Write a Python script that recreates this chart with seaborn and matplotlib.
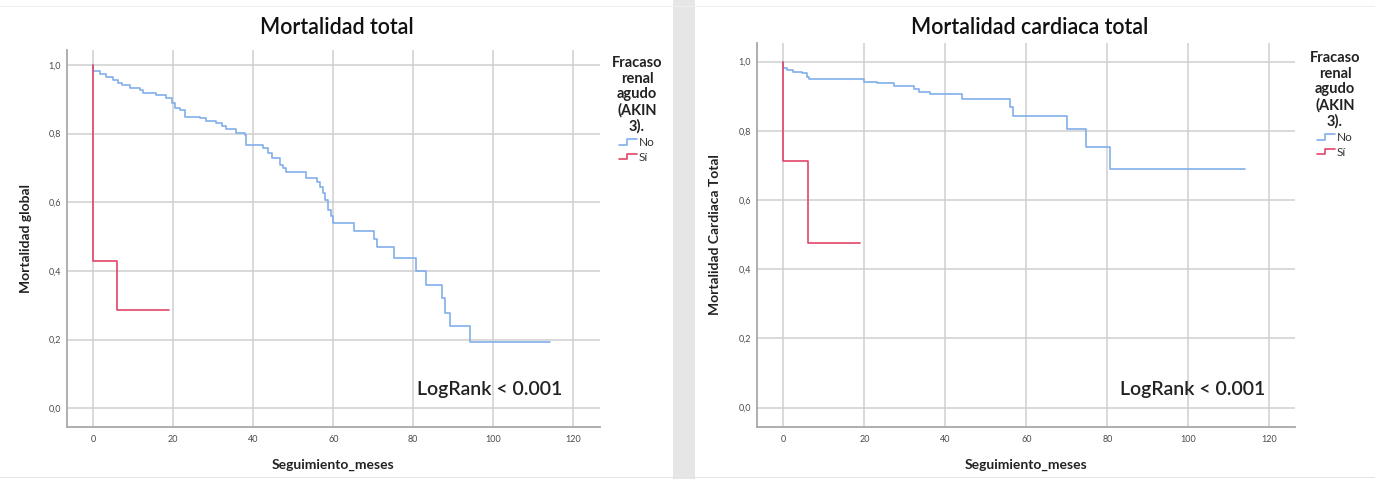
import numpy as np
import pandas as pd
import matplotlib
matplotlib.use("Agg")
import matplotlib.pyplot as plt
import seaborn as sns
from matplotlib.lines import Line2D
from matplotlib.patches import Rectangle
from matplotlib.legend_handler import HandlerBase
from matplotlib.ticker import FuncFormatter

# Kaplan-Meier estimates, months of follow-up
total_no_t = [0.0, 0.0, 1.7, 3.3, 5.0, 6.2, 7.1, 9.2, 11.7, 12.5, 15.8, 18.3, 19.6, 20.4,
              21.7, 23.0, 26.7, 28.3, 30.8, 32.2, 33.3, 35.8, 37.9, 38.1, 42.5, 43.6,
              44.6, 46.7, 47.5, 48.3, 53.3, 56.0, 56.7, 57.4, 58.0, 58.8, 59.4, 60.0,
              65.2, 70.2, 71.0, 75.2, 80.8, 83.2, 87.1, 88.0, 89.3, 94.3, 114.3]
total_no_s = [1.0, 0.983, 0.973, 0.964, 0.956, 0.949, 0.942, 0.932, 0.927, 0.918, 0.913,
              0.903, 0.888, 0.874, 0.869, 0.848, 0.845, 0.838, 0.830, 0.822, 0.813,
              0.801, 0.796, 0.767, 0.757, 0.743, 0.728, 0.709, 0.699, 0.689, 0.670,
              0.660, 0.646, 0.626, 0.607, 0.578, 0.560, 0.541, 0.517, 0.492, 0.471,
              0.437, 0.401, 0.359, 0.320, 0.279, 0.241, 0.194, 0.194]
total_si_t = [0.0, 0.0, 5.9, 18.9]
total_si_s = [1.0, 0.4286, 0.2857, 0.2857]

card_no_t = [0.0, 0.0, 0.8, 2.5, 4.5, 5.8, 6.4, 20.0, 23.1, 27.2, 32.2, 33.4, 36.3,
             44.1, 55.9, 56.7, 69.9, 74.8, 80.7, 113.9]
card_no_s = [1.0, 0.981, 0.976, 0.971, 0.966, 0.957, 0.950, 0.942, 0.938, 0.930,
             0.920, 0.913, 0.907, 0.891, 0.870, 0.843, 0.805, 0.754, 0.689, 0.689]
card_si_t = [0.0, 0.0, 6.2, 18.9]
card_si_s = [1.0, 0.714, 0.476, 0.476]

groups = ["No", "Sí"]
panel_titles = ["Mortalidad total", "Mortalidad cardiaca total"]
y_labels = ["Mortalidad global", "Mortalidad Cardiaca Total"]
x_label = "Seguimiento_meses"
legend_title = "Fracaso\nrenal\nagudo\n(AKIN\n3)."
logrank_text = "LogRank < 0.001"
x_ticks = [0, 20, 40, 60, 80, 100, 120]
y_ticks = [0.0, 0.2, 0.4, 0.6, 0.8, 1.0]

palette = {"No": "#82aeea", "Sí": "#e2466a"}

sns.set_theme(style="white")
plt.rcParams["font.family"] = ["Lato", "DejaVu Sans"]


def frame(no_t, no_s, si_t, si_s):
    return pd.DataFrame({
        "meses": list(no_t) + list(si_t),
        "surv": list(no_s) + list(si_s),
        "grupo": ["No"] * len(no_t) + ["Sí"] * len(si_t),
    })


data = [frame(total_no_t, total_no_s, total_si_t, total_si_s),
        frame(card_no_t, card_no_s, card_si_t, card_si_s)]


class StepHandler(HandlerBase):
    def create_artists(self, legend, orig_handle, xdescent, ydescent,
                       width, height, fontsize, trans):
        x0 = -xdescent
        y0 = -ydescent
        xs = [x0, x0 + width * 0.45, x0 + width * 0.45, x0 + width]
        ys = [y0 + height * 0.2, y0 + height * 0.2, y0 + height * 0.85, y0 + height * 0.85]
        ln = Line2D(xs, ys, color=orig_handle.get_color(), lw=1.2)
        ln.set_transform(trans)
        return [ln]


W, H = 1375, 479
fig = plt.figure(figsize=(W / 100, H / 100), dpi=100)
fig.patch.set_facecolor("white")

# gap between the two panels
fig.patches.append(Rectangle((673 / W, 0), 22 / W, 1, transform=fig.transFigure,
                             facecolor="#e6e6e6", edgecolor="none", zorder=0))
fig.patches.append(Rectangle((0, 1 - 7 / H), 1, 1.2 / H, transform=fig.transFigure,
                             facecolor="#eeeeee", edgecolor="none", zorder=0))
fig.patches.append(Rectangle((0, 1 - 478 / H), 1, 1.5 / H, transform=fig.transFigure,
                             facecolor="#e4e4e4", edgecolor="none", zorder=0))

axes_px = [(66.7, 50, 600, 427), (756.7, 43, 1295, 426.7)]
xlims = [(-6.65, 126.7), (-6.57, 126.3)]
ylims = [(-0.0545, 1.0437), (-0.055, 1.054)]
title_y = [28, 28]
ylabel_x = [26, 715]
legend_x = [637, 1335]
legend_top = [56, 51]
logrank_pos = [(562, 390), (1265, 390)]

for i, df in enumerate(data):
    l, t, r, b = axes_px[i]
    ax = fig.add_axes([l / W, 1 - b / H, (r - l) / W, (b - t) / H])
    ax.set_facecolor("none")
    sns.lineplot(data=df, x="meses", y="surv", hue="grupo", hue_order=groups,
                 palette=palette, drawstyle="steps-post", estimator=None,
                 sort=False, legend=False, linewidth=1.2, ax=ax, zorder=3)
    ax.set_xlim(*xlims[i])
    ax.set_ylim(*ylims[i])
    ax.set_xticks(x_ticks)
    ax.set_yticks(y_ticks)
    ax.yaxis.set_major_formatter(FuncFormatter(lambda v, p: f"{v:.1f}".replace(".", ",")))
    ax.tick_params(axis="both", length=0, labelsize=6.5, labelcolor="#4a4a4a")
    ax.tick_params(axis="x", pad=6)
    ax.tick_params(axis="y", pad=4)
    ax.grid(True, color="#cfcfcf", linewidth=1.1)
    ax.set_axisbelow(True)
    for side in ["top", "right"]:
        ax.spines[side].set_visible(False)
    for side in ["left", "bottom"]:
        ax.spines[side].set_color("#a8a8a8")
        ax.spines[side].set_linewidth(1.3)
    ax.set_xlabel("")
    ax.set_ylabel("")

    fig.text(((l + r) / 2 + 4) / W, 1 - title_y[i] / H, panel_titles[i],
             ha="center", va="center", fontsize=15.5, fontweight="semibold",
             color="#111111")
    fig.text(((l + r) / 2) / W, 1 - 465 / H, x_label, ha="center", va="center",
             fontsize=10, fontweight="bold", color="#222222")
    fig.text(ylabel_x[i] / W, 1 - ((t + b) / 2) / H, y_labels[i], ha="center",
             va="center", rotation=90, fontsize=10, fontweight="bold", color="#222222")
    lx, ly = logrank_pos[i]
    fig.text(lx / W, 1 - ly / H, logrank_text, ha="right", va="center",
             fontsize=14, fontweight="semibold", color="#222222")

    handles = [Line2D([], [], color=palette[g]) for g in groups]
    leg = fig.legend(handles, groups, loc="upper center",
                     bbox_to_anchor=(legend_x[i] / W, 1 - legend_top[i] / H),
                     bbox_transform=fig.transFigure, frameon=False,
                     title=legend_title, alignment="center",
                     handler_map={Line2D: StepHandler()},
                     handlelength=1.5, handletextpad=0.15, labelspacing=0.3,
                     prop={"size": 8.5}, borderpad=0, borderaxespad=0)
    leg.get_title().set_fontweight("bold")
    leg.get_title().set_fontsize(10.5)
    leg.get_title().set_multialignment("center")
    leg.get_title().set_linespacing(1.15)
    leg.get_title().set_color("#222222")
    for txt in leg.get_texts():
        txt.set_color("#333333")

fig.savefig("out.png", dpi=100, facecolor="white")
